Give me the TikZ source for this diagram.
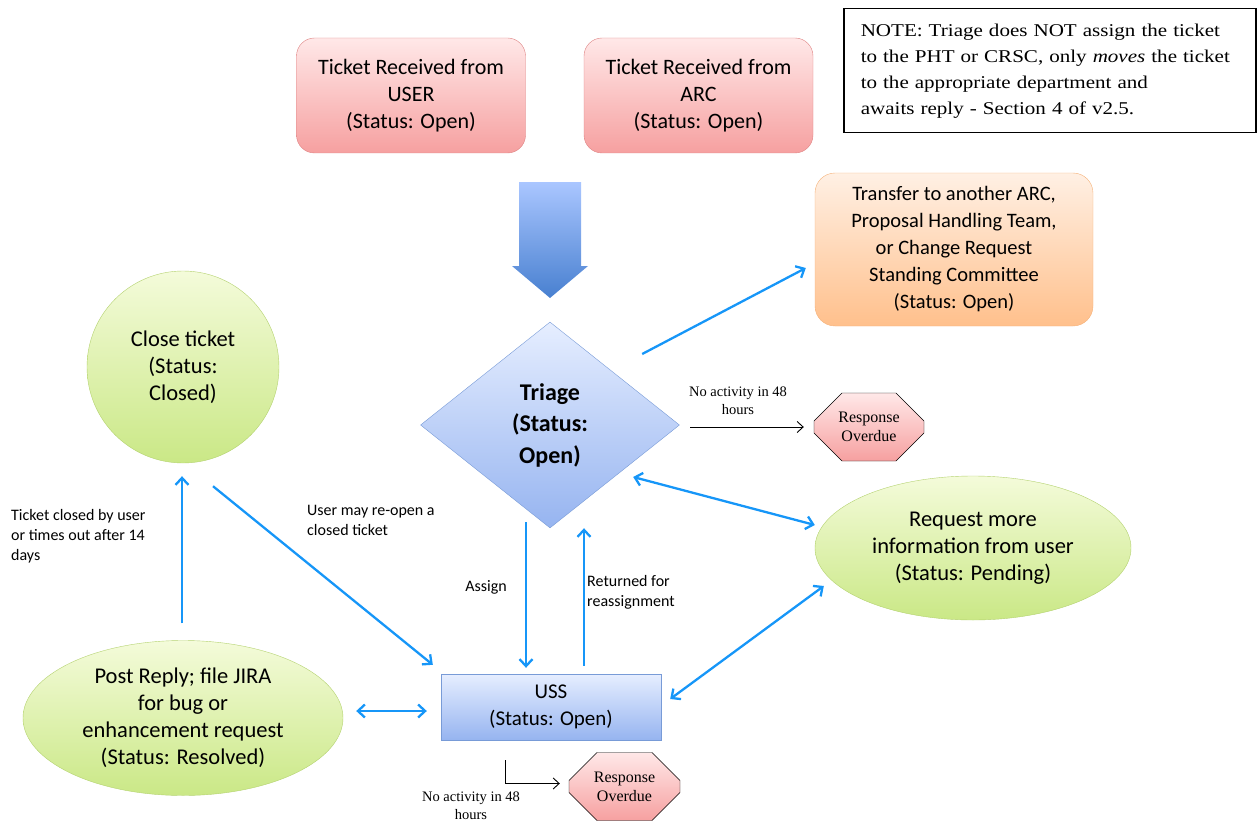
\documentclass[tikz,border=0pt]{standalone}
\usepackage{fontspec}
\setmainfont{Carlito}
\newfontfamily\notefont[FakeStretch=1.17]{Liberation Serif}
\newfontfamily\overduefont{Liberation Serif}
\usetikzlibrary{shapes.geometric, shapes.misc, calc}
\usetikzlibrary{arrows.meta}

\definecolor{flowblue}{RGB}{22,150,248}
\definecolor{redtop}{RGB}{255,232,232}
\definecolor{redbot}{RGB}{246,160,160}
\definecolor{redline}{RGB}{222,130,130}
\definecolor{orangetop}{RGB}{255,240,228}
\definecolor{orangebot}{RGB}{255,192,140}
\definecolor{orangeline}{RGB}{245,178,122}
\definecolor{greentop}{RGB}{244,251,218}
\definecolor{greenbot}{RGB}{202,232,134}
\definecolor{greenline}{RGB}{180,210,112}
\definecolor{bluetop}{RGB}{230,238,255}
\definecolor{bluebot}{RGB}{150,180,240}
\definecolor{blueline}{RGB}{120,155,215}
\definecolor{arrowtop}{RGB}{170,198,255}
\definecolor{arrowbot}{RGB}{72,128,208}

\begin{document}
\begin{tikzpicture}[x=1pt, y=-1pt,
  ticketbox/.style={draw=redline, rounded corners=18pt, top color=redtop, bottom color=redbot,
    minimum width=229pt, minimum height=115pt, align=center, font=\fontsize{22}{27}\selectfont},
  transferbox/.style={draw=orangeline, rounded corners=20pt, top color=orangetop, bottom color=orangebot,
    minimum width=278pt, minimum height=153pt, align=center, font=\fontsize{20.5}{27}\selectfont},
  greenshape/.style={draw=greenline, top color=greentop, bottom color=greenbot, inner sep=0pt,
    align=center, font=\fontsize{22.5}{27}\selectfont},
  ussbox/.style={draw=blueline, top color=bluetop, bottom color=bluebot,
    minimum width=220pt, minimum height=66pt, align=center, font=\fontsize{21}{27}\selectfont},
  triagebox/.style={diamond, draw=blueline, top color=bluetop, bottom color=bluebot, inner sep=0pt,
    aspect=1.257, minimum width=259pt, minimum height=206pt, align=center,
    font=\fontsize{24}{31.5}\selectfont\bfseries},
  overduebox/.style={chamfered rectangle, chamfered rectangle xsep=13pt, chamfered rectangle ysep=15pt,
    draw=black, top color=redtop, bottom color=redbot, minimum height=68pt, inner sep=0pt,
    align=center, font=\overduefont\fontsize{16}{19}\selectfont},
  notebox/.style={draw=black, line width=1.5pt, inner xsep=17pt, text width=378pt, minimum height=124pt,
    align=left, font=\notefont\fontsize{18}{26}\selectfont},
  smalllabel/.style={inner sep=0pt, font=\fontsize{16}{20}\selectfont},
  overduelabel/.style={inner sep=0pt, align=center, font=\overduefont\fontsize{14.5}{18}\selectfont},
  flow/.style={draw=flowblue, line width=2.3pt, -{Straight Barb[length=7pt,width=13pt]}},
  flowboth/.style={flow, {Straight Barb[length=7pt,width=13pt]}-{Straight Barb[length=7pt,width=13pt]}},
  idlearrow/.style={draw=black, line width=0.9pt, -{Straight Barb[length=6pt,width=11pt]}}]

  \useasboundingbox (0,0) rectangle (1258,824);

  % Tickets de entrada
  \node[ticketbox] (user) at (411,95.5) {Ticket Received from\\USER\\(Status: Open)};
  \node[ticketbox] (arc) at (698.5,95.5) {Ticket Received from\\ARC\\(Status: Open)};

  % Nota
  \node[notebox, anchor=north west] (note) at (843,8)
    {NOTE: Triage does NOT assign the ticket\\to the PHT or CRSC, only \textit{moves} the ticket\\to the appropriate department and\\awaits reply - Section 4 of v2.5.};

  % Flecha gruesa hacia triage
  \shade[top color=arrowtop, bottom color=arrowbot] (519,182) -- (581,182) -- (581,266) -- (588,266)
    -- (550,298) -- (512,266) -- (519,266) -- cycle;

  % Triage y transferencia
  \node[triagebox] (triage) at (550,425) {Triage\\(Status:\\Open)};
  \node[transferbox] (transfer) at (954,249.5)
    {Transfer to another ARC,\\Proposal Handling Team,\\or Change Request\\Standing Committee\\(Status: Open)};

  % Estados verdes
  \node[greenshape, circle, minimum size=192pt] (close) at (183,367) {Close ticket\\(Status:\\Closed)};
  \node[greenshape, ellipse, minimum width=316pt, minimum height=144pt] (request) at (973,548)
    {Request more\\information from user\\(Status: Pending)};
  \node[greenshape, ellipse, minimum width=320pt, minimum height=155pt] (post) at (183,718)
    {Post Reply; file JIRA\\for bug or\\enhancement request\\(Status: Resolved)};

  % USS
  \node[ussbox] (uss) at (551,707) {USS\\(Status: Open)};

  % Respuesta vencida
  \node[overduebox, minimum width=110pt] (overdue1) at (869,427) {Response\\Overdue};
  \node[overduebox, minimum width=111pt] (overdue2) at (624.5,786.5) {Response\\Overdue};

  % Etiquetas
  \node[smalllabel, anchor=north west, align=left] (closedlbl) at (11,509) {Ticket closed by user\\or times out after 14\\days};
  \node[smalllabel, anchor=north west, align=left] (reopenlbl) at (307,505) {User may re-open a\\closed ticket};
  \node[smalllabel] (assignlbl) at (486,587) {Assign};
  \node[smalllabel, anchor=west, align=left] (returnlbl) at (587,592) {Returned for\\reassignment};
  \node[overduelabel] (idle1lbl) at (738,401) {No activity in 48\\hours};
  \node[overduelabel] (idle2lbl) at (471,806) {No activity in 48\\hours};

  % Flechas azules
  \draw[flow] ($(triage.east)+(-37.5,-71)$) -- ($(transfer.west)+(-9,18.5)$);
  \draw[flowboth] ($(triage.east)+(-46.5,52)$) -- ($(request.west)+(0,-23)$);
  \draw[flow] ($(triage.south)+(-24,-6)$) -- ($(uss.north)+(-25,-6)$);
  \draw[flow] ($(uss.north)+(33,-8)$) -- ($(triage.south)+(34,0)$);
  \draw[flowboth] ($(request.west)+(9,38)$) -- ($(uss.east)+(9,-8)$);
  \draw[flowboth] ($(post.east)+(13,-7)$) -- ($(uss.west)+(-14,4)$);
  \draw[flow] ($(post.north)+(-1,-17)$) -- ($(close.south)+(-1,13)$);
  \draw[flow] ($(close.south)+(30,23)$) -- ($(uss.north west)+(-8,-9)$);

  % Flechas negras (sin actividad)
  \draw[idlearrow] ($(triage.east)+(10.5,2)$) -- ($(overdue1.west)+(-10,0)$);
  \draw[idlearrow] ($(uss.south)+(-46,20)$) |- ($(overdue2.west)+(-9,-3)$);

\end{tikzpicture}
\end{document}
